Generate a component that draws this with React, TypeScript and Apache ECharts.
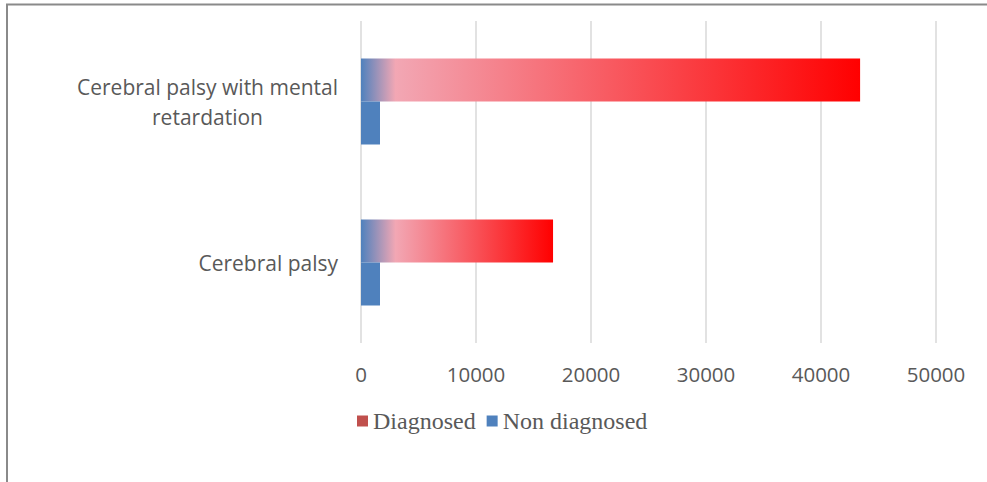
import React, { useEffect, useRef } from "react";
import * as echarts from "echarts";

const categories = ["Cerebral palsy", "Cerebral palsy with mental retardation"];
const diagnosed = [16700, 43400];
const nonDiagnosed = [1650, 1650];
const xTicks = { min: 0, max: 50000, interval: 10000 };

const BLUE = "#4F81BD";
const PINK = "#F2A7B4";
const RED = "#FF0000";
const PINK_OFFSET_UNITS = 3000;

function gradientFor(value: number) {
  const p = Math.min(0.9, PINK_OFFSET_UNITS / value);
  return new echarts.graphic.LinearGradient(0, 0, 1, 0, [
    { offset: 0, color: BLUE },
    { offset: p, color: PINK },
    { offset: 1, color: RED },
  ]);
}

export default function App() {
  const ref = useRef<HTMLDivElement>(null);
  useEffect(() => {
    if (!ref.current) return;
    const chart = echarts.init(ref.current, undefined, { renderer: "svg" });
    const font = "'Open Sans', sans-serif";
    chart.setOption({
      animation: false,
      graphic: [
        {
          type: "polyline",
          shape: { points: [[7, 482], [7, 4.5], [987, 4.5]] },
          style: { stroke: "#8a8a8a", lineWidth: 2, fill: "none" },
          silent: true,
        },
      ],
      grid: { left: 361, right: 51, top: 21, bottom: 139, containLabel: false },
      legend: {
        top: 404,
        left: 352,
        icon: "rect",
        itemWidth: 11,
        itemHeight: 11,
        itemGap: 11,
        textStyle: { fontFamily: "'Liberation Serif', serif", fontSize: 24, color: "#595959" },
        data: ["Diagnosed", "Non diagnosed"],
      },
      xAxis: {
        type: "value",
        min: xTicks.min,
        max: xTicks.max,
        interval: xTicks.interval,
        axisLine: { show: false },
        axisTick: { show: false },
        splitLine: { show: true, lineStyle: { color: "#d9d9d9", width: 1.5 } },
        axisLabel: {
          color: "#595959",
          fontFamily: font,
          fontSize: 20.5,
          margin: 20,
          formatter: (v: number) => String(v),
        },
      },
      yAxis: {
        type: "category",
        data: categories,
        axisLine: { show: false },
        axisTick: { show: false },
        axisLabel: {
          margin: 23,
          color: "#595959",
          fontFamily: font,
          fontSize: 21,
          lineHeight: 30,
          formatter: (v: string) =>
            v === "Cerebral palsy with mental retardation"
              ? "{c|Cerebral palsy with mental}\n{c|retardation}"
              : "{c|" + v + "}",
          rich: {
            c: { align: "center", color: "#595959", fontFamily: font, fontSize: 21, lineHeight: 30 },
          },
        },
      },
      series: [
        {
          name: "Diagnosed",
          type: "bar",
          barWidth: 43,
          barGap: "0%",
          color: "#C0504D",
          itemStyle: { color: "#C0504D" },
          data: diagnosed.map((v) => ({ value: v, itemStyle: { color: gradientFor(v) } })),
        },
        {
          name: "Non diagnosed",
          type: "bar",
          barWidth: 43,
          barGap: "0%",
          color: BLUE,
          itemStyle: { color: BLUE },
          data: nonDiagnosed,
        },
      ],
    });
    return () => chart.dispose();
  }, []);
  return (
    <div
      ref={ref}
      style={{ position: "fixed", left: 0, top: 0, width: 987, height: 482, background: "#fff" }}
    />
  );
}
